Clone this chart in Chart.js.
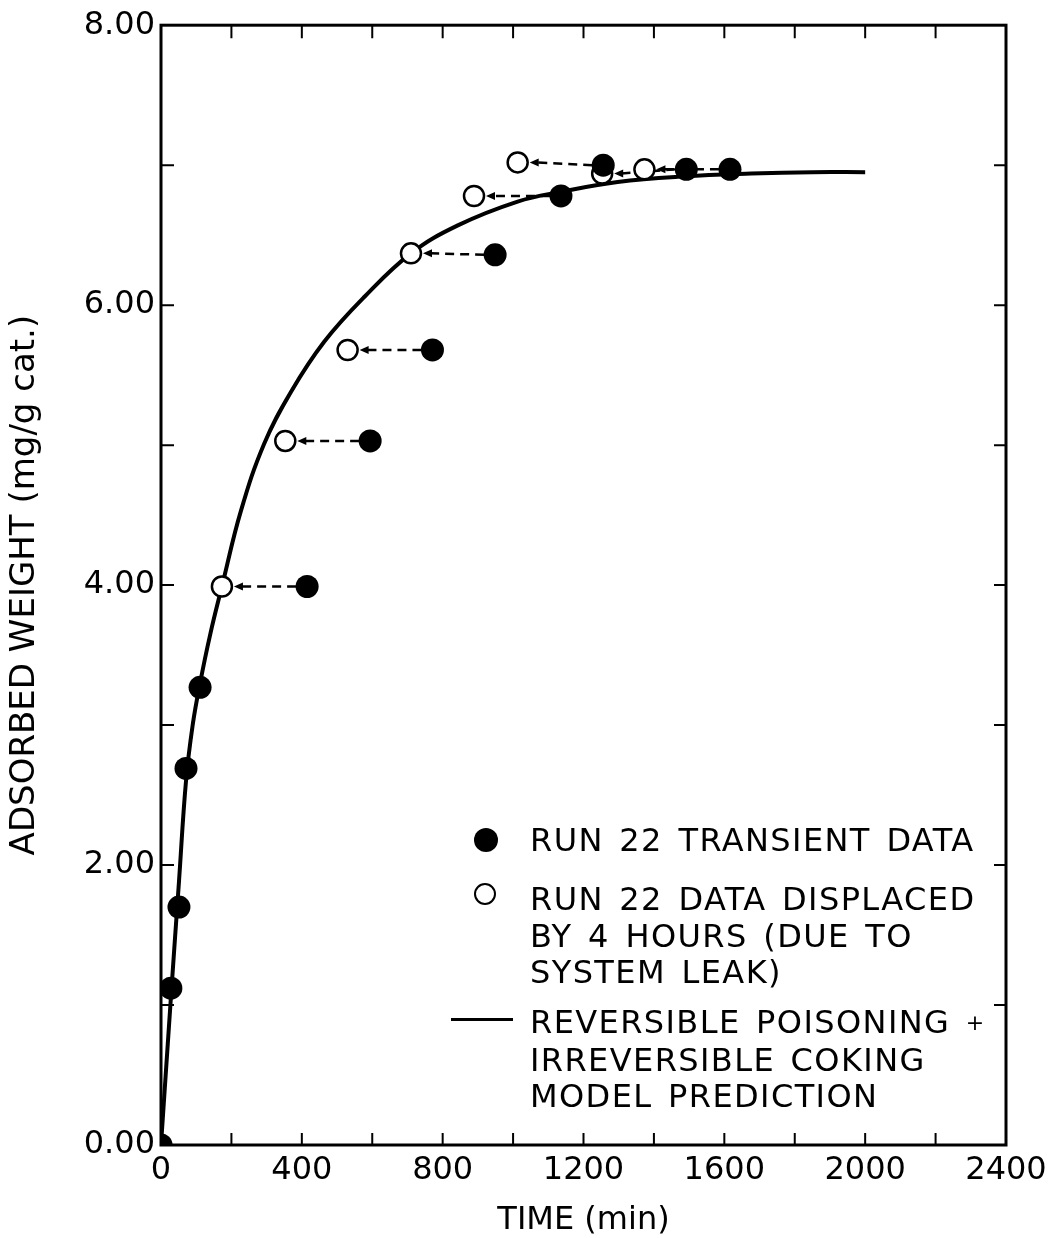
<!DOCTYPE html>
<html>
<head>
<meta charset="utf-8">
<script src="https://cdn.jsdelivr.net/npm/chart.js@4/dist/chart.umd.min.js"></script>
<style>
  html, body { margin: 0; padding: 0; background: #fff; }
  #wrap { position: relative; width: 1058px; height: 1238px; }
  #legend { position: absolute; left: 0; top: 0; font-family: "DejaVu Sans"; font-size: 32px; color: #000; letter-spacing: 1.4px; word-spacing: 4px; }
  .txt { position: absolute; left: 530px; line-height: 36.5px; white-space: pre; }
  .dot { position: absolute; border-radius: 50%; box-sizing: border-box; }
  .bar { position: absolute; background: #000; }
</style>
</head>
<body>
<div id="wrap">
  <canvas id="chart" width="1058" height="1238"></canvas>
  <div id="legend">
    <div class="dot" style="left:474px; top:828px; width:24px; height:24px; background:#000;"></div>
    <div class="txt" style="top:822px;">RUN 22 TRANSIENT DATA</div>
    <div class="dot" style="left:474px; top:883px; width:22px; height:22px; border:2px solid #000; background:#fff;"></div>
    <div class="txt" style="top:881px;">RUN 22 DATA DISPLACED<br>BY 4 HOURS (DUE TO<br>SYSTEM LEAK)</div>
    <div class="bar" style="left:451px; top:1018px; width:62px; height:3px;"></div>
    <div class="txt" style="top:1004px;">REVERSIBLE POISONING <span style="font-size:22px; vertical-align:3px;">+</span><br>IRREVERSIBLE COKING<br>MODEL PREDICTION</div>
  </div>
</div>
<script>
// model prediction curve
const curveTime = [0, 28, 51, 71, 90, 111, 140, 173, 227, 293, 369, 464, 578, 710, 843, 1013, 1136, 1297, 1487, 1676, 1850, 2000];
const curveWeight = [0, 1.05, 1.88, 2.6, 3.0, 3.3, 3.65, 3.99, 4.53, 5.01, 5.38, 5.74, 6.06, 6.37, 6.57, 6.74, 6.81, 6.88, 6.92, 6.94, 6.95, 6.95];

// run 22 transient data (filled circles)
const transientTime = [0, 28, 51, 71, 111, 415, 594, 771, 949, 1136, 1256, 1492, 1616];
const transientWeight = [0, 1.12, 1.70, 2.69, 3.27, 3.99, 5.03, 5.68, 6.36, 6.78, 7.00, 6.97, 6.97];

// same data displaced by 4 hours (open circles)
const displacedTime = [173, 353, 530, 710, 889, 1013, 1253, 1373];
const displacedWeight = [3.99, 5.03, 5.68, 6.37, 6.78, 7.02, 6.94, 6.97];
// index of the transient point each open circle was moved from
const displacedFrom = [5, 6, 7, 8, 9, 10, 11, 12];

const yTickLabels = ["0.00", "2.00", "4.00", "6.00", "8.00"];
const xTickLabels = ["0", "400", "800", "1200", "1600", "2000", "2400"];

const FONT = "DejaVu Sans";

const toXY = (xs, ys) => xs.map((v, i) => ({ x: v, y: ys[i] }));

const frameAndArrows = {
    id: "frameAndArrows",
    beforeDatasetsDraw(chart) {
        const { ctx, chartArea: a } = chart;
        const x = chart.scales.x;
        const y = chart.scales.y;
        ctx.save();
        ctx.strokeStyle = "#000";
        ctx.fillStyle = "#000";

        // inward tick marks on all four sides
        ctx.lineWidth = 2;
        ctx.beginPath();
        x.ticks.forEach((t) => {
            const px = x.getPixelForValue(t.value);
            if (px < a.left + 2 || px > a.right - 2) return;
            ctx.moveTo(px, a.bottom); ctx.lineTo(px, a.bottom - 12);
            ctx.moveTo(px, a.top); ctx.lineTo(px, a.top + 13);
        });
        y.ticks.forEach((t) => {
            const py = y.getPixelForValue(t.value);
            if (py < a.top + 2 || py > a.bottom - 2) return;
            ctx.moveTo(a.left, py); ctx.lineTo(a.left + 13, py);
            ctx.moveTo(a.right, py); ctx.lineTo(a.right - 12, py);
        });
        ctx.stroke();

        // frame
        ctx.lineWidth = 3;
        ctx.strokeRect(a.left, a.top, a.width, a.height);

        // dashed arrows from transient points to displaced points
        ctx.lineWidth = 2.5;
        displacedFrom.forEach((j, i) => {
            const x0 = x.getPixelForValue(transientTime[j]) - 11;
            const y0 = y.getPixelForValue(transientWeight[j]);
            const x1 = x.getPixelForValue(displacedTime[i]) + 12;
            const y1 = y.getPixelForValue(displacedWeight[i]);
            ctx.setLineDash([9, 6]);
            ctx.beginPath();
            ctx.moveTo(x0, y0);
            ctx.lineTo(x1 + 7, y1);
            ctx.stroke();
            ctx.setLineDash([]);
            ctx.beginPath();
            ctx.moveTo(x1, y1);
            ctx.lineTo(x1 + 9, y1 - 4);
            ctx.lineTo(x1 + 9, y1 + 4);
            ctx.closePath();
            ctx.fill();
        });
        ctx.restore();
    },
};

const chart = new Chart(document.getElementById("chart").getContext("2d"), {
    type: "scatter",
    data: {
        datasets: [
            {
                type: "line",
                label: "REVERSIBLE POISONING + IRREVERSIBLE COKING MODEL PREDICTION",
                data: toXY(curveTime, curveWeight),
                borderColor: "#000",
                borderWidth: 4,
                pointRadius: 0,
                fill: false,
                tension: 0.4,
                order: 3,
            },
            {
                label: "RUN 22 DATA DISPLACED BY 4 HOURS (DUE TO SYSTEM LEAK)",
                data: toXY(displacedTime, displacedWeight),
                pointRadius: 10,
                pointBackgroundColor: "#fff",
                pointBorderColor: "#000",
                pointBorderWidth: 2.5,
                order: 2,
            },
            {
                label: "RUN 22 TRANSIENT DATA",
                data: toXY(transientTime, transientWeight),
                pointRadius: 11.5,
                pointBackgroundColor: "#000",
                pointBorderColor: "#000",
                pointBorderWidth: 0,
                order: 1,
            },
        ],
    },
    options: {
        responsive: false,
        animation: false,
        devicePixelRatio: 1,
        layout: { padding: { top: 21, right: 52, left: 0, bottom: 0 } },
        plugins: {
            legend: { display: false },
            tooltip: { enabled: false },
        },
        scales: {
            x: {
                type: "linear",
                min: 0,
                max: 2400,
                grid: { display: false, drawTicks: false },
                border: { display: false },
                ticks: {
                    stepSize: 200,
                    autoSkip: false,
                    maxRotation: 0,
                    padding: 6,
                    color: "#000",
                    font: { family: FONT, size: 32 },
                    callback: (v) => (v % 400 === 0 ? xTickLabels[v / 400] : ""),
                },
                title: {
                    display: true,
                    text: "TIME (min)",
                    color: "#000",
                    font: { family: FONT, size: 32, lineHeight: 1 },
                    padding: { top: 0, bottom: 1 },
                },
                afterFit: (s) => { s.height = 93; },
            },
            y: {
                min: 0,
                max: 8,
                grid: { display: false, drawTicks: false },
                border: { display: false },
                ticks: {
                    stepSize: 1,
                    autoSkip: false,
                    padding: 6,
                    color: "#000",
                    font: { family: FONT, size: 32 },
                    callback: (v) => (v % 2 === 0 ? yTickLabels[v / 2] : ""),
                },
                title: {
                    display: true,
                    text: "ADSORBED WEIGHT (mg/g cat.)",
                    color: "#000",
                    font: { family: FONT, size: 34, lineHeight: 1 },
                    padding: { top: 8, bottom: 0 },
                },
                afterFit: (s) => { s.width = 161; },
            },
        },
    },
    plugins: [frameAndArrows],
});
</script>
</body>
</html>
